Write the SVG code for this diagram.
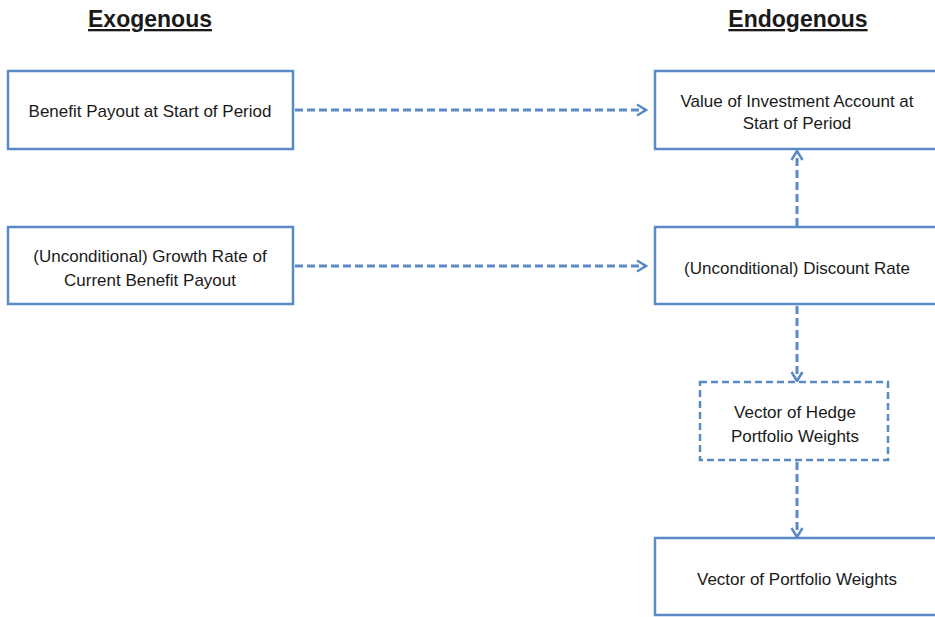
<svg xmlns="http://www.w3.org/2000/svg" width="935" height="617" viewBox="0 0 935 617">
<style>
.box{fill:#fff;stroke:#5A8AC6;stroke-width:2.5}
.dbox{fill:#fff;stroke:#5A8AC6;stroke-width:2.5;stroke-dasharray:7,4}
.t{font-family:"Liberation Sans",Arial,sans-serif;font-size:17px;fill:#1a1a1a;text-anchor:middle}
.h{font-family:"Liberation Sans",Arial,sans-serif;font-size:23px;font-weight:bold;fill:#1a1a1a;text-anchor:middle;text-decoration:underline}
.c{fill:none;stroke:#5A8AC6;stroke-width:3;stroke-dasharray:8,4}
</style>
<defs>
<marker id="a" viewBox="0 0 14 14" refX="12" refY="7" markerWidth="14" markerHeight="14" markerUnits="userSpaceOnUse" orient="auto">
<path d="M3,1.5 L12,7 L3,12.5" fill="none" stroke="#5A8AC6" stroke-width="2.5"/>
</marker>
</defs>
<rect width="935" height="617" fill="#fff"/>
<text class="h" x="150" y="27">Exogenous</text>
<text class="h" x="798" y="27">Endogenous</text>
<g id="connectors">
<line class="c" x1="295" y1="110" x2="646" y2="110" marker-end="url(#a)"/>
<line class="c" x1="295" y1="266" x2="646" y2="266" marker-end="url(#a)"/>
<line class="c" x1="797" y1="226" x2="797" y2="151" marker-end="url(#a)"/>
<line class="c" x1="797" y1="306" x2="797" y2="381" marker-end="url(#a)"/>
<line class="c" x1="797" y1="462" x2="797" y2="537" marker-end="url(#a)"/>
</g>
<g id="n1"><rect class="box" x="8" y="71" width="285" height="78"/><text class="t" x="150" y="117">Benefit Payout at Start of Period</text></g>
<g id="n2"><rect class="box" x="8" y="227" width="285" height="77"/><text class="t" x="150" y="262">(Unconditional) Growth Rate of</text><text class="t" x="150" y="286">Current Benefit Payout</text></g>
<g id="n3"><rect class="box" x="655" y="71" width="290" height="78"/><text class="t" x="797" y="107">Value of Investment Account at</text><text class="t" x="797" y="129">Start of Period</text></g>
<g id="n4"><rect class="box" x="655" y="227" width="290" height="77"/><text class="t" x="797" y="274">(Unconditional) Discount Rate</text></g>
<g id="n5"><rect class="dbox" x="700" y="382" width="188" height="78"/><text class="t" x="795" y="418">Vector of Hedge</text><text class="t" x="795" y="442">Portfolio Weights</text></g>
<g id="n6"><rect class="box" x="655" y="538" width="290" height="77"/><text class="t" x="797" y="585">Vector of Portfolio Weights</text></g>
</svg>
